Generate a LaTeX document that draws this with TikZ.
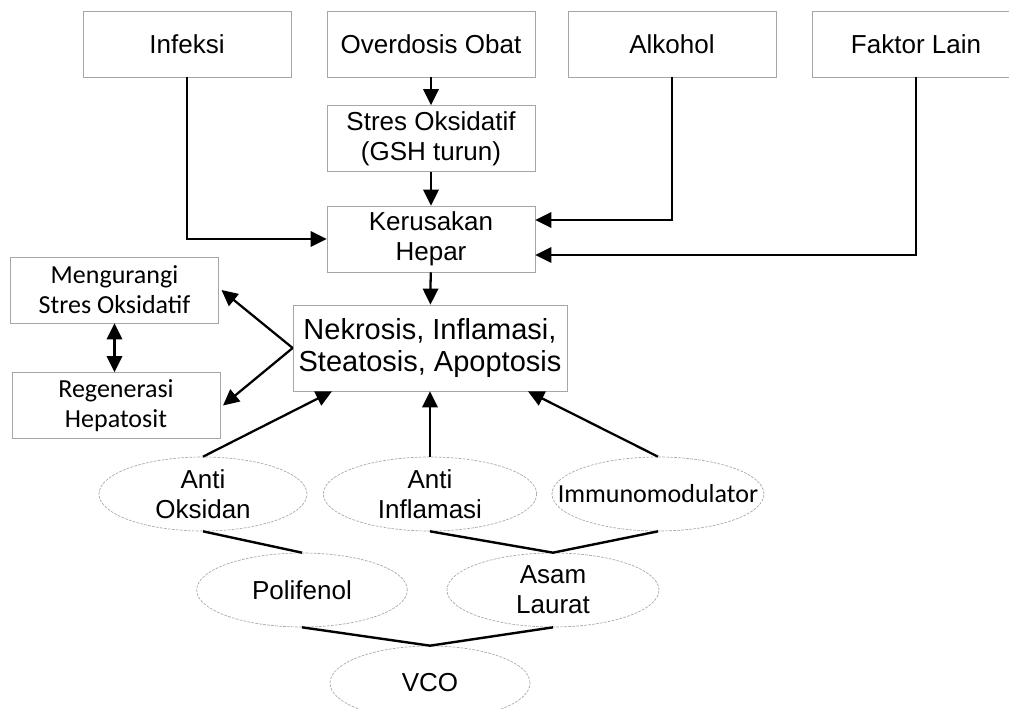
\documentclass[tikz,border=0pt]{standalone}
\usepackage{fontspec}
\setmainfont{Liberation Sans}
\newfontfamily\calfont{Carlito}
\usetikzlibrary{arrows.meta,shapes.geometric}

\begin{document}
\begin{tikzpicture}[
    x=0.75pt, y=-0.75pt,
    kotak/.style={draw=gray!70, line width=0.5pt, align=center, inner sep=0pt,
      minimum width=156pt, minimum height=49.5pt,
      font=\fontsize{19.5}{22.5}\selectfont},
    kotakkiri/.style={kotak, font=\calfont\fontsize{19.5}{22.5}\selectfont},
    elips/.style={ellipse, draw=gray!70, line width=0.5pt, dash pattern=on 2pt off 1pt,
      align=center, inner sep=0pt, minimum width=156pt, minimum height=55.5pt,
      font=\fontsize{19.5}{22.5}\selectfont},
    ujung/.tip={Triangle[length=12pt, width=11.5pt]},
    panah/.style={-ujung, line width=1.7pt},
    garis/.style={line width=1.8pt}]
    \useasboundingbox (0,0) rectangle (1009,709);

    % faktor penyebab
    \node [kotak] (inf) at (187,44) {Infeksi};
    \node [kotak] (ovd) at (431,44) {Overdosis Obat};
    \node [kotak] (alk) at (672,44) {Alkohol};
    \node [kotak] (fak) at (916,44) {Faktor Lain};
    \node [kotak] (stres) at (431,138.5) {Stres Oksidatif\\(GSH turun)};
    \node [kotak] (rusak) at (431,239) {Kerusakan\\Hepar};
    \node [kotak, minimum width=205.5pt, minimum height=64.5pt,
      font=\fontsize{21.75}{24}\selectfont] (nek) at (430,348)
      {Nekrosis, Inflamasi,\\Steatosis, Apoptosis};
    \node [kotakkiri] (kurang) at (114.5,290) {Mengurangi\\Stres Oksidatif};
    \node [kotakkiri] (regen) at (116,405.5) {Regenerasi\\Hepatosit};

    % kandungan VCO
    \node [elips] (aoks) at (203,494) {Anti\\Oksidan};
    \node [elips, minimum width=160pt] (ainf) at (430,494) {Anti\\Inflamasi};
    \node [elips, minimum width=159pt, font=\calfont\fontsize{19.5}{23}\selectfont] (imm) at (658,494)
      {\makebox[0pt]{Immunomodulator}};
    \node [elips, minimum width=158pt] (poli) at (302,590) {Polifenol};
    \node [elips, minimum width=159pt] (asam) at (553,590) {Asam\\Laurat};
    \node [elips, minimum width=150pt] (vco) at (430,683) {VCO};

    \draw [panah] (ovd) -- (stres);
    \draw [panah] (stres) -- (rusak);
    \draw [panah] (inf.south) |- (rusak.west);
    \draw [panah] (alk.south) |- ([yshift=14.25pt]rusak.east);
    \draw [panah] (fak.south) |- ([yshift=-12pt]rusak.east);
    \draw [panah] (rusak) -- (nek);
    \draw [panah] (nek.west) -- ([xshift=2pt]kurang.east);
    \draw [panah] (nek.west) -- ([xshift=2pt]regen.east);
    \draw [panah, ujung-ujung] (kurang.south) -- (kurang.south |- regen.north);
    \draw [panah] (aoks.north) -- ([xshift=-73.5pt]nek.south);
    \draw [panah] (ainf.north) -- (nek.south);
    \draw [panah] (imm.north) -- ([xshift=73.5pt]nek.south);

    \draw [garis] (aoks.south) -- (poli.north);
    \draw [garis] (ainf.south) -- (asam.north) -- (imm.south);
    \draw [garis] (poli.south) -- (vco.north) -- (asam.south);
  \end{tikzpicture}
\end{document}
